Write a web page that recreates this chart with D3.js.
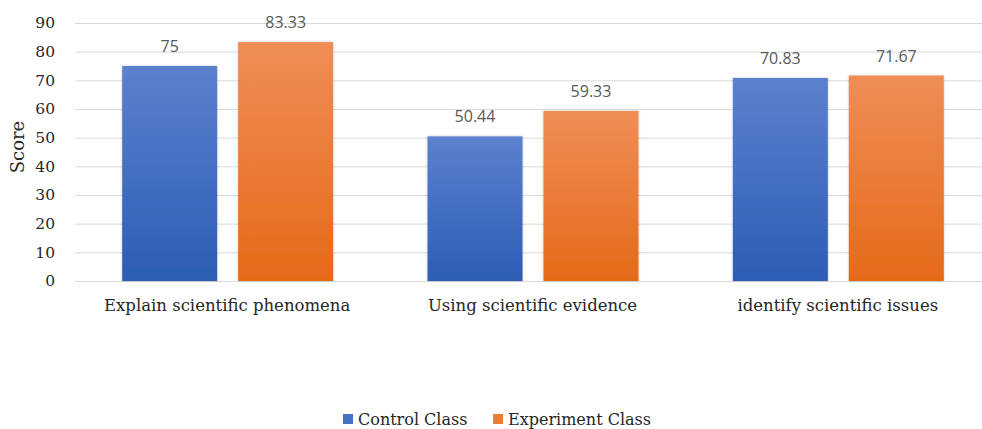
<!DOCTYPE html>
<html>
<head>
<meta charset="utf-8">
<script src="https://cdn.jsdelivr.net/npm/d3@7"></script>
<style>
  html, body { margin: 0; padding: 0; background: #fff; }
  svg { display: block; }
</style>
</head>
<body>
<div id="chart"></div>
<script>
// Chart data
const categories = ['Explain scientific phenomena', 'Using scientific evidence', 'identify scientific issues'];
const seriesNames = ['Control Class', 'Experiment Class'];
const controlValues = [75, 50.44, 70.83];
const experimentValues = [83.33, 59.33, 71.67];
const valueLabels = [['75', '50.44', '70.83'], ['83.33', '59.33', '71.67']];
const yTicks = [0, 10, 20, 30, 40, 50, 60, 70, 80, 90];

const width = 982, height = 429;
const plot = { left: 75, right: 991, top: 23, bottom: 281 };

const SERIF = '"DejaVu Serif", serif';
const SANS = '"Open Sans", sans-serif';

const gradients = [
  { id: 'grad-blue', top: '#5c81cd', bottom: '#2d5db5', swatch: '#4472c4' },
  { id: 'grad-orange', top: '#f08d57', bottom: '#e46a18', swatch: '#ed7d31' },
];

const svg = d3.select('#chart').append('svg')
  .attr('width', width)
  .attr('height', height);

const defs = svg.append('defs');
gradients.forEach(g => {
  const lg = defs.append('linearGradient').attr('id', g.id)
    .attr('x1', 0).attr('y1', 0).attr('x2', 0).attr('y2', 1);
  lg.append('stop').attr('offset', '0%').attr('stop-color', g.top);
  lg.append('stop').attr('offset', '100%').attr('stop-color', g.bottom);
});
const shadow = defs.append('filter').attr('id', 'shadow')
  .attr('x', '-10%').attr('y', '-10%').attr('width', '120%').attr('height', '120%');
shadow.append('feDropShadow')
  .attr('dx', 0).attr('dy', 0).attr('stdDeviation', 1.2)
  .attr('flood-color', '#000').attr('flood-opacity', 0.25);

// Scales
const x0 = d3.scaleBand().domain(categories).range([plot.left, plot.right]).padding(0);
const x1 = d3.scaleBand().domain(seriesNames).range([0, x0.bandwidth()])
  .paddingInner(0.181).paddingOuter(0.407);
const y = d3.scaleLinear().domain([0, 90]).range([plot.bottom, plot.top]);

// Gridlines
svg.append('g').selectAll('line')
  .data(yTicks)
  .join('line')
  .attr('x1', plot.left).attr('x2', width)
  .attr('y1', d => y(d) + 0.5).attr('y2', d => y(d) + 0.5)
  .attr('stroke', '#d9d9d9').attr('stroke-width', 1);

// Y tick labels
svg.append('g').selectAll('text')
  .data(yTicks)
  .join('text')
  .attr('x', 55)
  .attr('y', d => y(d))
  .attr('dy', '0.35em')
  .attr('text-anchor', 'end')
  .attr('font-family', SERIF)
  .attr('font-size', 15.5)
  .attr('fill', '#262626')
  .text(d => d);

// Y axis title
svg.append('text')
  .attr('transform', 'translate(24,147) rotate(-90)')
  .attr('text-anchor', 'middle')
  .attr('font-family', SERIF)
  .attr('font-size', 18)
  .attr('fill', '#262626')
  .text('Score');

// Bars
const rows = categories.map((c, i) => ({
  category: c,
  values: [controlValues[i], experimentValues[i]].map((v, s) => ({
    series: seriesNames[s], s, value: v, label: valueLabels[s][i],
  })),
}));

const groups = svg.append('g').selectAll('g')
  .data(rows)
  .join('g')
  .attr('transform', d => `translate(${x0(d.category)},0)`);

groups.selectAll('rect')
  .data(d => d.values)
  .join('rect')
  .attr('x', d => x1(d.series))
  .attr('y', d => y(d.value))
  .attr('width', x1.bandwidth())
  .attr('height', d => y(0) - y(d.value))
  .attr('fill', d => `url(#${gradients[d.s].id})`)
  .attr('filter', 'url(#shadow)');

groups.selectAll('text')
  .data(d => d.values)
  .join('text')
  .attr('x', d => x1(d.series) + x1.bandwidth() / 2)
  .attr('y', d => y(d.value) - 14)
  .attr('text-anchor', 'middle')
  .attr('font-family', SANS)
  .attr('font-size', 16)
  .attr('fill', '#595959')
  .text(d => d.label);

// Category labels
svg.append('g').selectAll('text')
  .data(categories)
  .join('text')
  .attr('x', d => x0(d) + x0.bandwidth() / 2 - 0.5)
  .attr('y', 311)
  .attr('text-anchor', 'middle')
  .attr('font-family', SERIF)
  .attr('font-size', 16.5)
  .attr('fill', '#262626')
  .text(d => d);

// Legend (moved up slightly so the text is not cut at the bottom edge)
const legendX = [343, 493];
const legend = svg.append('g').selectAll('g')
  .data(seriesNames)
  .join('g')
  .attr('transform', (d, i) => `translate(${legendX[i]},414)`);
legend.append('rect')
  .attr('width', 10).attr('height', 10)
  .attr('fill', (d, i) => gradients[i].swatch);
legend.append('text')
  .attr('x', 15).attr('y', 11)
  .attr('font-family', SERIF)
  .attr('font-size', 16)
  .attr('fill', '#262626')
  .text(d => d);
</script>
</body>
</html>
